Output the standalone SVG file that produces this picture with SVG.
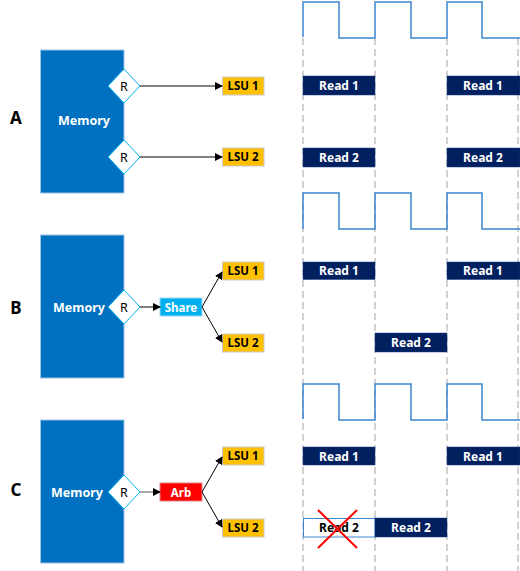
<svg xmlns="http://www.w3.org/2000/svg" width="520" height="571" viewBox="0 0 520 571">
<defs>
<marker id="ah" markerWidth="8" markerHeight="8" refX="7" refY="4" orient="auto" markerUnits="userSpaceOnUse">
<path d="M0,0 L8,4 L0,8 Z" fill="#000"/>
</marker>
<style>
.mem{fill:#0070C0;stroke:#9DC3E6;stroke-width:1}
.memt{font-family:"Noto Sans","Open Sans",sans-serif;font-weight:bold;font-size:12.5px;fill:#fff;text-anchor:middle}
.dia{fill:#fff;stroke:#00B0F0;stroke-width:1}
.rt{font-family:"Noto Sans","Open Sans",sans-serif;font-size:12.5px;fill:#000;text-anchor:middle}
.lsu{fill:#FFC000;stroke:#C9C9C9;stroke-width:1}
.lsut{font-family:"Noto Sans","Open Sans",sans-serif;font-weight:bold;font-size:11.5px;fill:#000;text-anchor:middle}
.lbl{font-family:"Noto Sans","Open Sans",sans-serif;font-weight:bold;font-size:17px;fill:#000;text-anchor:middle}
.rd{fill:#002060;stroke:#1F3F7F;stroke-width:0.5}
.rdt{font-family:"Noto Sans","Open Sans",sans-serif;font-weight:bold;font-size:12px;fill:#fff;text-anchor:middle}
.clk{fill:none;stroke:#3A86CC;stroke-width:1.5}
.dash{stroke:#C4C4C4;stroke-width:1.5;stroke-dasharray:7 4}
.con{stroke:#000;stroke-width:1;fill:none;marker-end:url(#ah)}
</style>
</defs>
<rect width="520" height="571" fill="#fff"/>

<g id="gridlines">
<line class="dash" x1="303" y1="38" x2="303" y2="571"/>
<line class="dash" x1="375" y1="38" x2="375" y2="571"/>
<line class="dash" x1="447" y1="38" x2="447" y2="571"/>
<line class="dash" x1="518" y1="38" x2="518" y2="571"/>
</g>

<g id="clocks">
<path class="clk" d="M303,37 V2 H339 V38 H375 V2 H411 V38 H447 V2 H482 V38 H520"/>
<path class="clk" d="M303,229 V193 H339 V229 H375 V193 H411 V229 H447 V193 H482 V229 H520"/>
<path class="clk" d="M303,419 V384 H339 V420 H375 V384 H411 V420 H447 V384 H482 V420 H520"/>
</g>

<g id="labels">
<text class="lbl" x="16" y="124">A</text>
<text class="lbl" x="16" y="314">B</text>
<text class="lbl" x="16" y="496">C</text>
</g>

<g id="memA"><rect class="mem" x="40.5" y="50" width="83.5" height="143"/><text class="memt" x="84" y="125">Memory</text></g>
<g id="rA1"><polygon class="dia" points="108,86 124,69 140,86 124,103"/><text class="rt" x="124" y="90.5">R</text></g>
<g id="rA2"><polygon class="dia" points="108,157 124,140 140,157 124,174"/><text class="rt" x="124" y="161.5">R</text></g>
<g id="lsuA1"><rect class="lsu" x="222.5" y="77" width="41.5" height="18"/><text class="lsut" x="243" y="90">LSU 1</text></g>
<g id="lsuA2"><rect class="lsu" x="222.5" y="148" width="41.5" height="18"/><text class="lsut" x="243" y="161">LSU 2</text></g>

<g id="memB"><rect class="mem" x="40.5" y="235" width="83.5" height="143"/><text class="memt" x="79" y="311.5">Memory</text></g>
<g id="rB"><polygon class="dia" points="108,307 124,290 140,307 124,324"/><text class="rt" x="124" y="311.5">R</text></g>
<g id="share"><rect x="160" y="298" width="42" height="18" fill="#00B0F0" stroke="#9DD8F0" stroke-width="1"/><text class="memt" x="181" y="311.5" style="font-size:11.5px">Share</text></g>
<g id="lsuB1"><rect class="lsu" x="222.5" y="262" width="41.5" height="18"/><text class="lsut" x="243" y="275">LSU 1</text></g>
<g id="lsuB2"><rect class="lsu" x="222.5" y="334" width="41.5" height="18"/><text class="lsut" x="243" y="347">LSU 2</text></g>

<g id="memC"><rect class="mem" x="40.5" y="420" width="83.5" height="143"/><text class="memt" x="77" y="496.5">Memory</text></g>
<g id="rC"><polygon class="dia" points="108,492 124,475 140,492 124,509"/><text class="rt" x="124" y="496.5">R</text></g>
<g id="arb"><rect x="160" y="483" width="42" height="18" fill="#FF0000" stroke="#E08080" stroke-width="1"/><text class="memt" x="181" y="496.5" style="font-size:11.5px">Arb</text></g>
<g id="lsuC1"><rect class="lsu" x="222.5" y="447" width="41.5" height="18"/><text class="lsut" x="243" y="460">LSU 1</text></g>
<g id="lsuC2"><rect class="lsu" x="222.5" y="519" width="41.5" height="18"/><text class="lsut" x="243" y="532">LSU 2</text></g>

<g id="connectors">
<line class="con" x1="140" y1="86" x2="222" y2="86"/>
<line class="con" x1="140" y1="157" x2="222" y2="157"/>
<line class="con" x1="140" y1="307" x2="160" y2="307"/>
<line class="con" x1="202" y1="307" x2="222" y2="272"/>
<line class="con" x1="202" y1="307" x2="222" y2="342"/>
<line class="con" x1="140" y1="492" x2="160" y2="492" style="stroke:#555"/>
<line class="con" x1="202" y1="492" x2="222" y2="457"/>
<line class="con" x1="202" y1="492" x2="222" y2="527"/>
</g>

<g id="reads">
<rect class="rd" x="303" y="76" width="72" height="19"/><text class="rdt" x="339" y="90">Read 1</text>
<rect class="rd" x="447" y="76" width="73" height="19"/><text class="rdt" x="483" y="90">Read 1</text>
<rect class="rd" x="303" y="148" width="72" height="19"/><text class="rdt" x="339" y="162">Read 2</text>
<rect class="rd" x="447" y="148" width="73" height="19"/><text class="rdt" x="483" y="162">Read 2</text>

<rect class="rd" x="303" y="262" width="72" height="17.5"/><text class="rdt" x="339" y="275">Read 1</text>
<rect class="rd" x="447" y="262" width="73" height="17.5"/><text class="rdt" x="483" y="275">Read 1</text>
<rect class="rd" x="375" y="333" width="72" height="19"/><text class="rdt" x="411" y="347">Read 2</text>

<rect class="rd" x="303" y="447" width="72" height="18"/><text class="rdt" x="339" y="460.5">Read 1</text>
<rect class="rd" x="447" y="447" width="73" height="18"/><text class="rdt" x="483" y="460.5">Read 1</text>
<rect x="303.5" y="518.5" width="71.5" height="18.5" fill="#fff" stroke="#3A86CC" stroke-width="1"/><text class="rdt" x="339" y="532" style="fill:#000">Read 2</text>
<rect class="rd" x="375" y="518" width="72" height="19"/><text class="rdt" x="411" y="532">Read 2</text>
<path d="M318,510 L357,548 M357,510 L318,548" stroke="#FF0000" stroke-width="2" fill="none"/>
</g>
</svg>
